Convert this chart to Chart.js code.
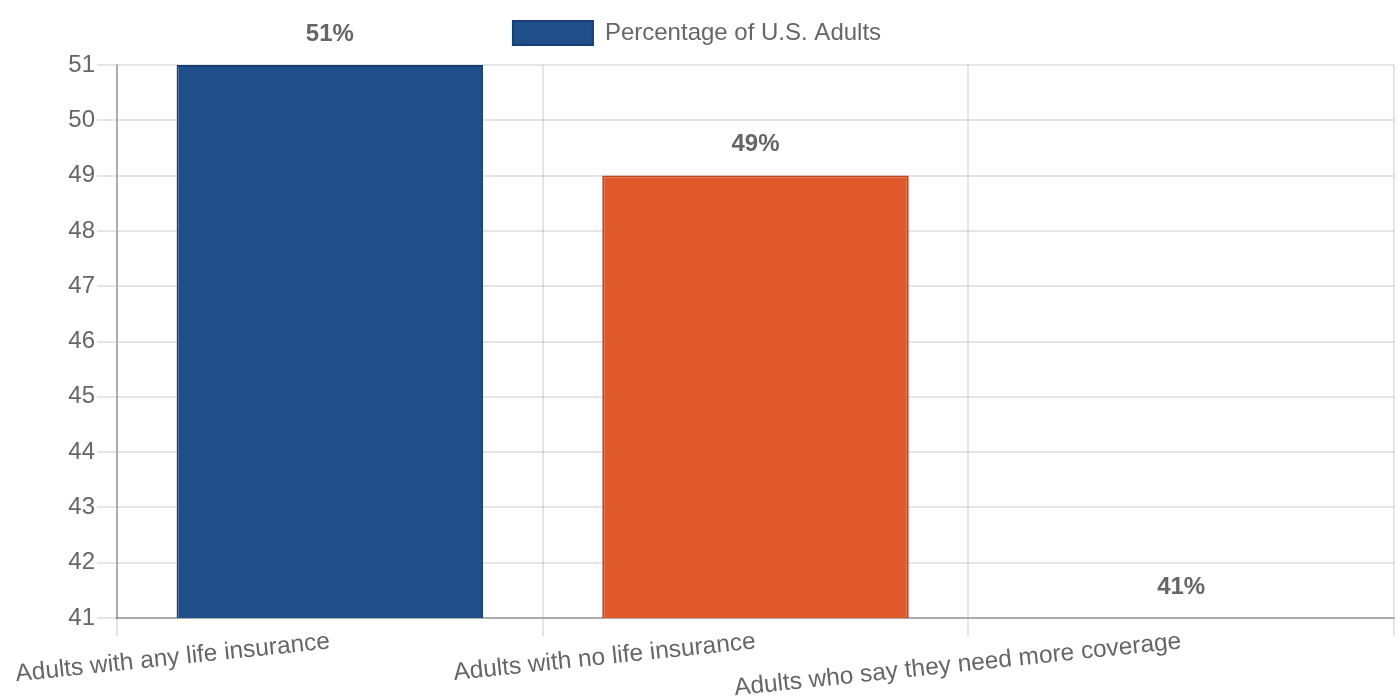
<!DOCTYPE html>
<html>
<head>
<meta charset="utf-8">
<script src="https://cdn.jsdelivr.net/npm/chart.js@4/dist/chart.umd.min.js"></script>
<style>
  html, body { margin: 0; padding: 0; background: #fff; }
  #wrap { width: 1400px; height: 700px; }
</style>
</head>
<body>
<div id="wrap"><canvas id="chart"></canvas></div>
<script>
const categories = [
  'Adults with any life insurance',
  'Adults with no life insurance',
  'Adults who say they need more coverage'
];
const percentages = [51, 49, 41];
const seriesLabel = 'Percentage of U.S. Adults';
const barColors = ['#1f4e8a', '#e05a2c', '#7f7f7f'];
const borderColors = ['#163f75', '#c4461e', '#666666'];

// draws the "51%" style labels above each bar
const valueLabels = {
  id: 'valueLabels',
  afterDatasetsDraw(chart) {
    const ctx = chart.ctx;
    const meta = chart.getDatasetMeta(0);
    ctx.save();
    ctx.font = 'bold 24px "Liberation Sans", Arial, sans-serif';
    ctx.fillStyle = '#666';
    ctx.textAlign = 'center';
    ctx.textBaseline = 'middle';
    meta.data.forEach((bar, i) => {
      ctx.fillText(percentages[i] + '%', bar.x, bar.y - 31);
    });
    ctx.restore();
  }
};

// a bit more room between legend and plot
const legendGap = {
  id: 'legendGap',
  beforeInit(chart) {
    const fit = chart.legend.fit;
    chart.legend.fit = function () {
      fit.call(this);
      this.height += 10;
    };
  }
};

Chart.defaults.font.family = '"Liberation Sans", Arial, sans-serif';
Chart.defaults.color = '#666';

const gridStyle = { color: 'rgba(0,0,0,0.1)', lineWidth: 2, tickLength: 18 };
const borderStyle = { color: 'rgba(0,0,0,0.25)', width: 2 };

new Chart(document.getElementById('chart'), {
  type: 'bar',
  data: {
    labels: categories,
    datasets: [{
      label: seriesLabel,
      data: percentages,
      backgroundColor: barColors,
      borderColor: borderColors,
      borderWidth: 2
    }]
  },
  options: {
    responsive: true,
    maintainAspectRatio: false,
    animation: false,
    layout: { padding: { top: 1, right: 6 } },
    plugins: {
      legend: {
        labels: { font: { size: 24 }, boxWidth: 80, padding: 20 }
      },
      tooltip: { enabled: false }
    },
    scales: {
      x: {
        grid: gridStyle,
        border: borderStyle,
        ticks: { font: { size: 24.5 }, padding: -9, minRotation: 6, maxRotation: 6 },
        afterFit(scale) { scale.height = 82; }
      },
      y: {
        beginAtZero: false,
        grid: { ...gridStyle, tickLength: 20 },
        border: borderStyle,
        ticks: { font: { size: 24 }, stepSize: 1, padding: 2 },
        afterFit(scale) { scale.width = 117; }
      }
    }
  },
  plugins: [valueLabels, legendGap]
});
</script>
</body>
</html>
